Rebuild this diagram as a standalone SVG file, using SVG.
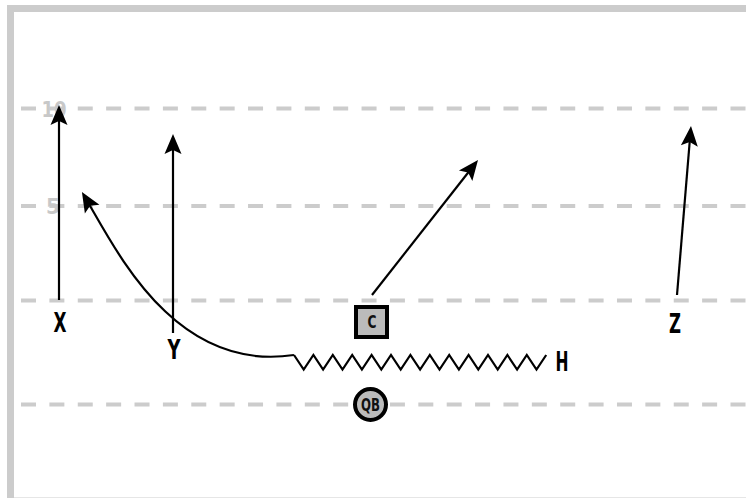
<svg xmlns="http://www.w3.org/2000/svg" width="746" height="498" viewBox="0 0 746 498">
  <style>
    .yard { stroke: #cccccc; stroke-width: 4; stroke-dasharray: 15 13.38; fill: none; }
    .num { font-family: "DejaVu Sans Condensed", "DejaVu Sans", sans-serif; font-weight: bold; font-size: 22px; fill: #c8c8c8; text-anchor: middle; }
    .lbl { font-family: "DejaVu Sans Condensed", "DejaVu Sans", sans-serif; font-weight: bold; font-size: 26px; fill: #000; text-anchor: middle; }
    .small { font-family: "DejaVu Sans Condensed", "DejaVu Sans", sans-serif; font-weight: bold; font-size: 17px; fill: #111; text-anchor: middle; }
    .route { stroke: #000; stroke-width: 2.2; fill: none; }
    .player { fill: #bbbbbb; stroke: #000; stroke-width: 4; }
  </style>
  <defs>
    <marker id="arrow" markerUnits="userSpaceOnUse" markerWidth="22" markerHeight="20" refX="14" refY="9" orient="auto" overflow="visible">
      <path d="M20,9 L0,0.5 L4,9 L0,17.5 Z" fill="#000"/>
    </marker>
  </defs>
  <rect x="0" y="0" width="746" height="498" fill="#ffffff"/>
  <rect x="10.5" y="8.5" width="745" height="492.5" fill="none" stroke="#cccccc" stroke-width="7"/>

  <g id="field">
    <line class="yard" x1="21" y1="108.5" x2="746" y2="108.5"/>
    <line class="yard" x1="21" y1="206" x2="746" y2="206"/>
    <line class="yard" x1="21" y1="300.5" x2="746" y2="300.5"/>
    <line class="yard" x1="21" y1="404.5" x2="746" y2="404.5"/>
    <text class="num" x="54" y="117" textLength="25" lengthAdjust="spacingAndGlyphs">10</text>
    <text class="num" x="53" y="214" textLength="14" lengthAdjust="spacingAndGlyphs">5</text>
  </g>

  <g id="connectors">
    <line class="route" x1="59" y1="300" x2="59" y2="111" marker-end="url(#arrow)"/>
    <line class="route" x1="173" y1="333" x2="173" y2="140" marker-end="url(#arrow)"/>
    <line class="route" x1="372" y1="295" x2="474.3" y2="164.7" marker-end="url(#arrow)"/>
    <line class="route" x1="677" y1="295" x2="690.5" y2="132" marker-end="url(#arrow)"/>
    <path class="route" d="M294,355 C174,373 116,249.2 85,197.2" marker-end="url(#arrow)"/>
    <polyline class="route" points="294,355 303.7,369.5 313.4,355 323.1,369.5 332.8,355 342.5,369.5 352.2,355 361.9,369.5 371.6,355 381.3,369.5 391,355 400.7,369.5 410.4,355 420.1,369.5 429.8,355 439.5,369.5 449.2,355 458.9,369.5 468.6,355 478.3,369.5 488,355 497.7,369.5 507.4,355 517.1,369.5 526.8,355 536.5,369.5 546.2,355"/>
  </g>

  <g id="X">
    <text class="lbl" x="60" y="332" textLength="13" lengthAdjust="spacingAndGlyphs">X</text>
  </g>
  <g id="Y">
    <text class="lbl" x="174" y="359" textLength="13" lengthAdjust="spacingAndGlyphs">Y</text>
  </g>
  <g id="Z">
    <text class="lbl" x="675" y="333" textLength="12" lengthAdjust="spacingAndGlyphs">Z</text>
  </g>
  <g id="H">
    <text class="lbl" x="562" y="371" textLength="13" lengthAdjust="spacingAndGlyphs">H</text>
  </g>
  <g id="C">
    <rect class="player" x="356" y="307" width="31" height="30"/>
    <text class="small" x="372" y="328" textLength="9" lengthAdjust="spacingAndGlyphs">C</text>
  </g>
  <g id="QB">
    <circle class="player" cx="370.5" cy="404.5" r="15.5"/>
    <text class="small" x="370.5" y="410.5" textLength="19" lengthAdjust="spacingAndGlyphs">QB</text>
  </g>
</svg>
